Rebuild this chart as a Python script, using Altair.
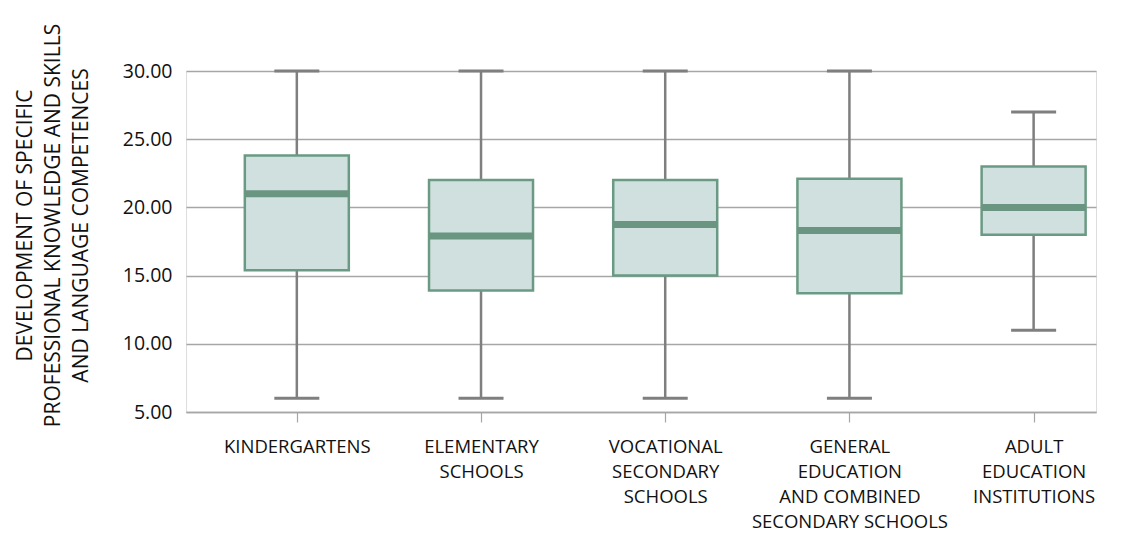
import altair as alt
import pandas as pd

categories = ["KINDERGARTENS", "ELEMENTARY|SCHOOLS", "VOCATIONAL|SECONDARY|SCHOOLS",
              "GENERAL|EDUCATION|AND COMBINED|SECONDARY SCHOOLS", "ADULT|EDUCATION|INSTITUTIONS"]
position = [0, 1, 2, 3, 4]
whisker_low = [6, 6, 6, 6, 11]
q1 = [15.4, 13.9, 15.0, 13.7, 18.0]
median = [21.0, 17.9, 18.75, 18.3, 20.0]
q3 = [23.8, 22.0, 22.0, 22.1, 23.0]
whisker_high = [30, 30, 30, 30, 27]
y_ticks = [5, 10, 15, 20, 25, 30]

df = pd.DataFrame({"cat": categories, "pos": position, "lo": whisker_low, "q1": q1,
                   "med": median, "q3": q3, "hi": whisker_high})

FONT = "Open Sans"
TXT = "#111111"
label_expr = "split(" + "[" + ",".join("'" + c + "'" for c in categories) + "][datum.value], '|')"

xscale = alt.Scale(domain=[-0.5745, 4.3115], nice=False, zero=False)
yscale = alt.Scale(domain=[5, 30], nice=False, zero=False)

x_enc = alt.X("pos:Q", scale=xscale, axis=alt.Axis(
    values=position, labelExpr=label_expr, title=None, grid=False,
    domainColor="#a6a6a6", domainWidth=1.5, tickColor="#a6a6a6", tickWidth=1.2, tickSize=10,
    labelPadding=15, labelFont=FONT, labelFontSize=18.5, labelColor=TXT,
    labelAlign="center", labelBaseline="top", labelLineHeight=25, labelFlush=False,
    labelOverlap=False, labelLimit=400))

y_axis = alt.Axis(values=y_ticks, format=".2f", title=["DEVELOPMENT OF SPECIFIC",
                  "PROFESSIONAL KNOWLEDGE AND SKILLS", "AND LANGUAGE COMPETENCES"],
                  domain=False, ticks=False, grid=True, gridColor="#a6a6a6", gridWidth=1.3,
                  labelFont=FONT, labelFontSize=19.5, labelColor=TXT, labelPadding=14,
                  titleFont=FONT, titleFontSize=21, titleFontWeight="normal", titleColor=TXT,
                  titleAngle=270, titleAlign="center", titleBaseline="top", titleX=-172, titleY=154,
                  titleLineHeight=28, titleLimit=600)

base = alt.Chart(df)

whisk = base.mark_rule(color="#7f7f7f", strokeWidth=2.5).encode(
    x=x_enc, y=alt.Y("lo:Q", scale=yscale, axis=y_axis), y2="hi:Q")
caps_lo = base.mark_tick(orient="horizontal", size=45, thickness=3, color="#7f7f7f", opacity=1).encode(
    x="pos:Q", y="lo:Q")
caps_hi = base.mark_tick(orient="horizontal", size=45, thickness=3, color="#7f7f7f", opacity=1).encode(
    x="pos:Q", y="hi:Q")
box = base.mark_bar(size=104, fill="#cfe0df", stroke="#6b9a84", strokeWidth=2.5, orient="vertical").encode(
    x="pos:Q", y="q1:Q", y2="q3:Q")
med = base.mark_tick(orient="horizontal", size=104, thickness=7, color="#6a9580", opacity=1).encode(
    x="pos:Q", y="med:Q")

chart = alt.layer(whisk, caps_lo, caps_hi, box, med).properties(
    width=910, height=341,
    autosize=alt.AutoSizeParams(type="none"),
    padding={"left": 178, "top": 63, "right": 30, "bottom": 120},
).configure_view(stroke=None).configure(background="white")

chart.save("out.html", embed_options={"renderer": "svg", "actions": False})
